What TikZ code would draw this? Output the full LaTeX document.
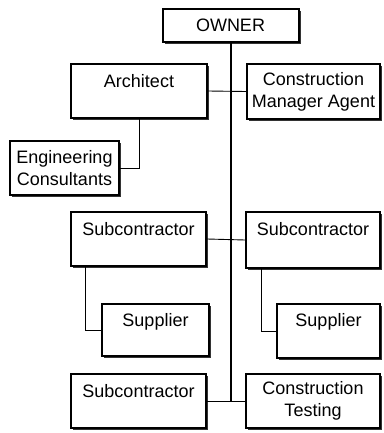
\documentclass[tikz,border=0pt]{standalone}
\usepackage{fontspec}
\setmainfont{Liberation Sans}
\usetikzlibrary{shadows}
\begin{document}
\begin{tikzpicture}[x=1pt,y=-1pt,
  box/.style={draw, line width=2pt, fill=white, inner sep=0pt,
    minimum width=#1, drop shadow={shadow xshift=2pt, shadow yshift=-2pt, fill=black, opacity=0.8}},
  cbox/.style={box=#1, align=center, font=\fontsize{18}{22}\selectfont},
  tbox/.style={box=#1},
  toplabel/.style={font=\fontsize{18}{22}\selectfont, anchor=base, inner sep=0pt},
  thin/.style={line width=0.9pt},
  main/.style={line width=2pt}]
\useasboundingbox (0,0) rectangle (383,433);
% boxes
\node[cbox=136pt, minimum height=33pt] (owner) at (230.5,25.5) {OWNER};
\node[tbox=136pt, minimum height=54pt] (arch) at (139,91) {};
\node[cbox=133pt, minimum height=55pt] (cma) at (313.5,91.5) {Construction\\Manager Agent};
\node[cbox=109pt, minimum height=54pt] (ec) at (64.5,168) {Engineering\\Consultants};
\node[tbox=135pt, minimum height=54pt] (subl) at (138.5,239) {};
\node[tbox=134pt, minimum height=56pt] (subr) at (313,240) {};
\node[tbox=107pt, minimum height=52pt] (supl) at (155.5,330) {};
\node[tbox=103pt, minimum height=54pt] (supr) at (328.5,331) {};
\node[tbox=135pt, minimum height=54pt] (subb) at (138.5,401) {};
\node[cbox=134pt, minimum height=54pt] (ct) at (313,401) {Construction\\Testing};
% top labels
\node[toplabel] (larch) at ([yshift=-25pt]arch.north) {Architect};
\node[toplabel] (lsubl) at ([yshift=-24pt]subl.north) {Subcontractor};
\node[toplabel] (lsubr) at ([yshift=-24pt]subr.north) {Subcontractor};
\node[toplabel] (lsupl) at ([yshift=-23pt]supl.north) {Supplier};
\node[toplabel] (lsupr) at ([yshift=-23pt]supr.north) {Supplier};
\node[toplabel] (lsubb) at ([yshift=-24pt]subb.north) {Subcontractor};
% connectors
\draw[thin] (arch.east) -- (cma.west);
\draw[thin] (subl.east) -- (subr.west);
\draw[thin] (subb.east) -- (ct.west);
\draw[main] (owner.south) -- (owner.south |- ct.west);
\draw[thin] (arch.south) |- (ec.east);
\draw[thin] ([xshift=15pt]subl.south west) |- (supl.west);
\draw[thin] ([xshift=16pt]subr.south west) |- (supr.west);
\end{tikzpicture}
\end{document}
